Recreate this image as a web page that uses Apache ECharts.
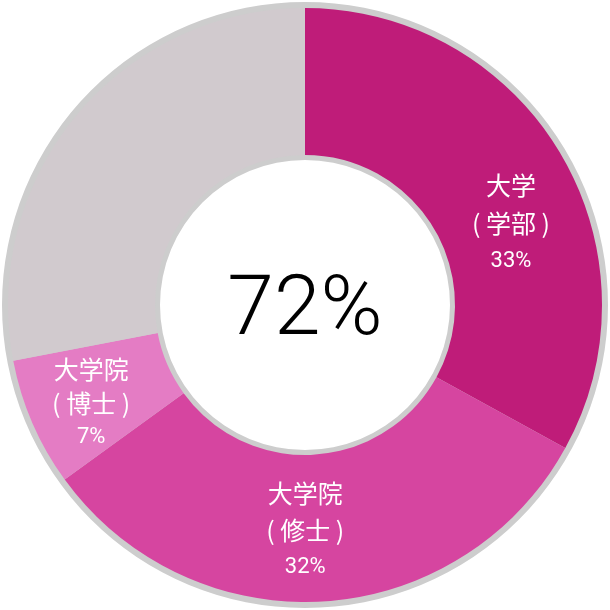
<!DOCTYPE html>
<html>
<head>
<meta charset="utf-8">
<script src="https://cdn.jsdelivr.net/npm/echarts@6/dist/echarts.min.js"></script>
<style>
  html, body { margin: 0; padding: 0; background: #fff; }
  #chart { width: 610px; height: 610px; }
</style>
</head>
<body>
<div id="chart"></div>
<script>
// データ
const titles = ['大学', '大学院', '大学院', '']
const subTitles = ['( 学部 )', '( 修士 )', '( 博士 )', '']
const shares = [33, 32, 7, 28]
const centerText = '72%'

const colors = ['#BF1C79', '#D645A0', '#E47CC4', '#D1CACE']
// ラベルの微調整
const offsets = [[11, 34], [-14, -1], [-6, 9], [0, 0]]
const lineHeights = [38, 37, 34, 34]

const chart = echarts.init(document.getElementById('chart'))

const pieData = shares.map((v, i) => ({
    value: v,
    name: titles[i] + subTitles[i],
    itemStyle: { color: colors[i] },
    label: {
        show: i < 3,
        offset: offsets[i],
        rich: {
            a: { lineHeight: lineHeights[i] },
            b: { lineHeight: lineHeights[i] },
        },
        formatter: '{a|' + titles[i] + '}\n{a|' + subTitles[i] + '}\n{b|' + v + '%}',
    },
}))

chart.setOption({
    animation: false,
    graphic: [
        {
            type: 'text',
            x: 305,
            y: 313,
            style: {
                text: centerText,
                align: 'center',
                verticalAlign: 'middle',
                fontSize: 84,
                fontWeight: 300,
                fontFamily: 'Roboto, sans-serif',
                fill: '#000',
            },
        },
    ],
    series: [
        {
            // 外枠
            type: 'pie',
            silent: true,
            radius: [145, 303],
            center: ['50%', '50%'],
            label: { show: false },
            data: [{ value: 1, itemStyle: { color: '#CDCDCD' } }],
        },
        {
            type: 'pie',
            radius: [150, 297],
            center: ['50%', '50%'],
            startAngle: 90,
            clockwise: true,
            label: {
                position: 'inside',
                color: '#fff',
                rich: {
                    a: {
                        color: '#fff',
                        fontSize: 25,
                        fontFamily: 'Noto Sans CJK JP',
                    },
                    b: {
                        color: '#fff',
                        fontSize: 22,
                        fontFamily: 'Roboto, sans-serif',
                    },
                },
            },
            labelLine: { show: false },
            emphasis: { disabled: true },
            data: pieData,
            z: 3,
        },
    ],
})
</script>
</body>
</html>
